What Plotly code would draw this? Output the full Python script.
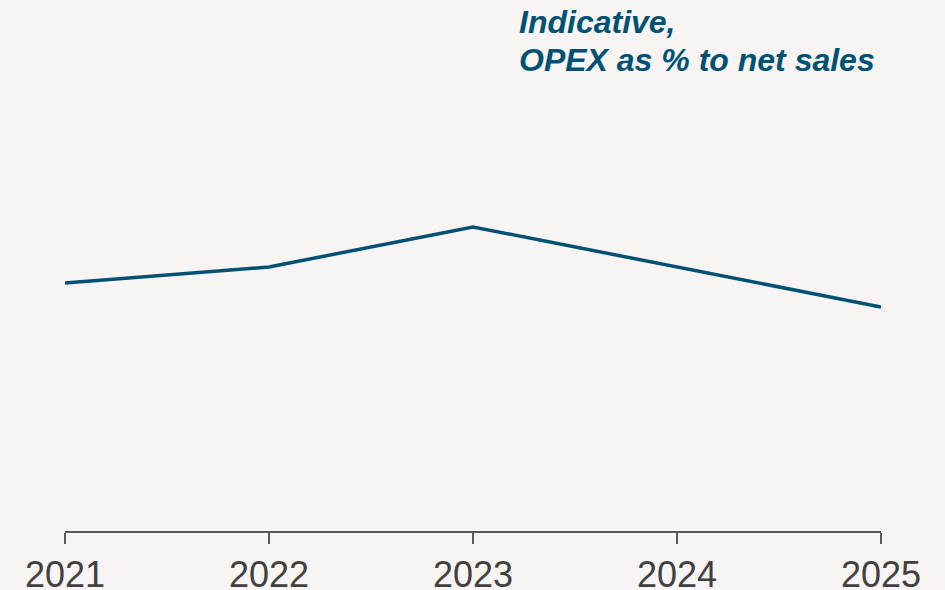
import plotly.graph_objs as go

years = [2021, 2022, 2023, 2024, 2025]
opex_pct = [13.5, 14.0, 15.25, 14.0, 12.75]
tick_labels = ['2021', '2022', '2023', '2024', '2025']
title_lines = ['Indicative,', 'OPEX as % to net sales']

bg = '#f7f4f3'
blue = '#005274'

trace = go.Scatter(x=years, y=opex_pct, mode='lines',
                   line=dict(color=blue, width=3.5), hoverinfo='skip')

# each title line as its own annotation so the line spacing can be tighter
notes = []
for i, txt in enumerate(title_lines):
    notes.append(dict(text='<b><i>' + txt + '</i></b>',
                      xref='paper', yref='paper', x=(517 - 65) / 816,
                      y=1 + (88 - 38 * i) / 441,
                      xanchor='left', yanchor='top', align='left', showarrow=False,
                      font=dict(size=32, color=blue)))

layout = go.Layout(
    width=945, height=590,
    margin=dict(l=65, r=64, t=90, b=59),
    paper_bgcolor=bg, plot_bgcolor=bg,
    showlegend=False,
    font=dict(family='Liberation Sans, Arial, sans-serif'),
    xaxis=dict(range=[2021, 2025], tickvals=years, ticktext=tick_labels,
               showgrid=False, zeroline=False, showline=True, automargin=False,
               linecolor='#595959', linewidth=2,
               ticks='outside', ticklen=11, tickwidth=2, tickcolor='#595959',
               tickfont=dict(size=36, color='#404040')),
    yaxis=dict(range=[5.75, 19.53], visible=False),
    annotations=notes
)

fig = go.Figure(data=[trace], layout=layout)
# drop the default page margin so the chart sits at 0,0
fig.write_html('out.html', config={'displayModeBar': False},
               post_script="document.body.style.margin='0px';document.body.style.overflow='hidden';")
